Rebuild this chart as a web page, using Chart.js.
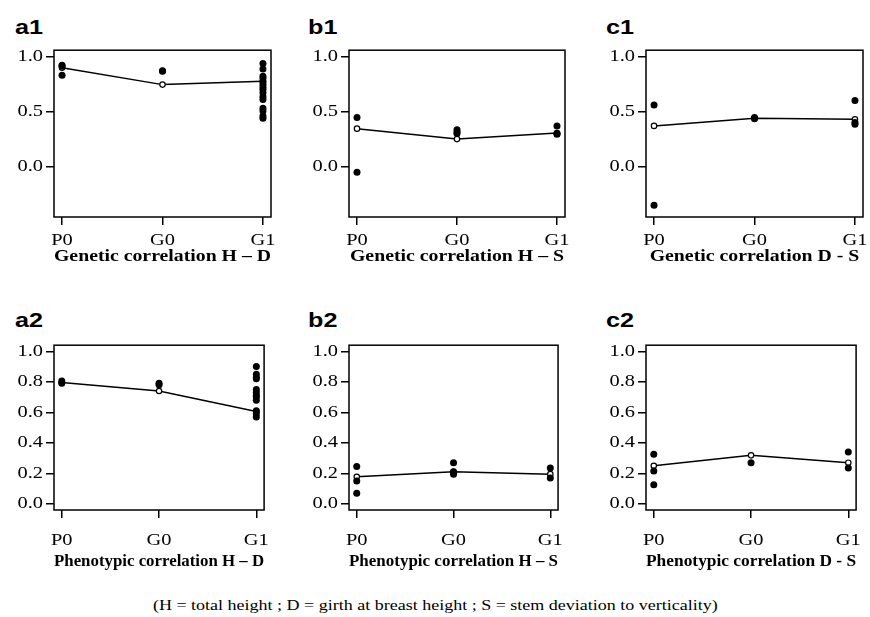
<!DOCTYPE html>
<html><head><meta charset="utf-8">
<script src="https://cdn.jsdelivr.net/npm/chart.js@4"></script>
<style>
body{margin:0;background:#fff;width:870px;height:617px;position:relative;overflow:hidden;}
canvas{position:absolute;}
.lab{position:absolute;font:bold 21px "Liberation Sans",Arial,sans-serif;line-height:21px;transform:scaleX(1.2);transform-origin:0 0;color:#000;}
#cap{position:absolute;left:0;top:598px;width:870px;text-align:center;font:15px "Liberation Serif","Times New Roman",serif;line-height:15px;color:#000;}
#cap span{display:inline-block;transform:scaleX(1.2);transform-origin:50% 0;}
</style></head>
<body>
<div id="cap"><span>(H = total height ; D = girth at breast height ; S = stem deviation to verticality)</span></div>
<script>
// ---- data ----
const xLabels = ['P0', 'G0', 'G1'];
const xPos = [1, 2, 3];
const topYTicks = [0.0, 0.5, 1.0];
const botYTicks = [0.0, 0.2, 0.4, 0.6, 0.8, 1.0];
const topYRange = [-0.456, 1.056];
const botYRange = [-0.04, 1.04];

const a1Mean = [0.897, 0.744, 0.775];
const a1P0 = [0.92, 0.91, 0.83];
const a1G0 = [0.87, 0.865];
const a1G1 = [0.935, 0.885, 0.82, 0.80, 0.77, 0.745, 0.72, 0.70, 0.67, 0.635, 0.61, 0.53, 0.505, 0.46, 0.44];

const b1Mean = [0.345, 0.25, 0.305];
const b1P0 = [0.445, -0.05];
const b1G0 = [0.335, 0.315, 0.30];
const b1G1 = [0.37, 0.30, 0.295];

const c1Mean = [0.37, 0.44, 0.43];
const c1P0 = [0.56, -0.35];
const c1G0 = [0.445, 0.435];
const c1G1 = [0.60, 0.40, 0.385];

const a2Mean = [0.795, 0.74, 0.605];
const a2P0 = [0.805, 0.79];
const a2G0 = [0.79, 0.78];
const a2G1 = [0.90, 0.85, 0.83, 0.82, 0.75, 0.73, 0.71, 0.70, 0.68, 0.61, 0.59, 0.57];

const b2Mean = [0.178, 0.21, 0.195];
const b2P0 = [0.245, 0.15, 0.07];
const b2G0 = [0.27, 0.21, 0.195];
const b2G1 = [0.235, 0.17];

const c2Mean = [0.25, 0.318, 0.27];
const c2P0 = [0.325, 0.215, 0.125];
const c2G0 = [0.27];
const c2G1 = [0.34, 0.235];

// ---- layout ----
const SX = 1.2;
const origFill = CanvasRenderingContext2D.prototype.fillText;
CanvasRenderingContext2D.prototype.fillText = function (t, x, y, mw) {
  this.save();
  this.translate(x, y);
  this.scale(SX, 1);
  if (mw === undefined) origFill.call(this, t, 0, 0);
  else origFill.call(this, t, 0, 0, mw / SX);
  this.restore();
};

const rows = [
  {boxTop: 47, boxBottom: 217, range: topYRange, ticks: topYTicks, labPad: 5, titleC: 257, labTop: 16},
  {boxTop: 342, boxBottom: 510, range: botYRange, ticks: botYTicks, labPad: 12, titleC: 562, labTop: 309}
];
const cols = [
  {left: 54, right: 271, labX: 15},
  {left: 349, right: 565, labX: 308},
  {left: 646, right: 863, labX: 606}
];

const panels = [
  {name: 'a1', r: 0, c: 0, title: 'Genetic correlation H \u2013 D', mean: a1Mean, pts: [a1P0, a1G0, a1G1]},
  {name: 'b1', r: 0, c: 1, title: 'Genetic correlation H \u2013 S', mean: b1Mean, pts: [b1P0, b1G0, b1G1]},
  {name: 'c1', r: 0, c: 2, title: 'Genetic correlation D - S', mean: c1Mean, pts: [c1P0, c1G0, c1G1]},
  {name: 'a2', r: 1, c: 0, title: 'Phenotypic correlation H \u2013 D', mean: a2Mean, pts: [a2P0, a2G0, a2G1]},
  {name: 'b2', r: 1, c: 1, title: 'Phenotypic correlation H \u2013 S', mean: b2Mean, pts: [b2P0, b2G0, b2G1]},
  {name: 'c2', r: 1, c: 2, title: 'Phenotypic correlation D - S', mean: c2Mean, pts: [c2P0, c2G0, c2G1]}
];

const boxPlugin = {
  id: 'box',
  afterDraw(chart) {
    const a = chart.chartArea, ctx = chart.ctx;
    ctx.save();
    ctx.strokeStyle = '#000';
    ctx.lineWidth = 1.5;
    ctx.strokeRect(a.left, a.top, a.right - a.left, a.bottom - a.top);
    ctx.restore();
  }
};

const tickFont = {family: '"Liberation Serif","Times New Roman",serif', size: 17};
const titleFont = {family: '"Liberation Serif","Times New Roman",serif', size: 16.5, weight: 'bold', lineHeight: 1.2};

panels.forEach(p => {
  const row = rows[p.r], col = cols[p.c];
  const cLeft = col.left - 54, cTop = row.boxTop - 10;
  const cW = (col.right - col.left) + 54 + 8;
  const cH = row.titleC + 14 - cTop;
  const xH = cH - (row.boxBottom - cTop);

  const lab = document.createElement('div');
  lab.className = 'lab';
  lab.textContent = p.name;
  lab.style.left = col.labX + 'px';
  lab.style.top = row.labTop + 'px';
  document.body.appendChild(lab);

  const cv = document.createElement('canvas');
  cv.width = cW; cv.height = cH;
  cv.style.left = cLeft + 'px'; cv.style.top = cTop + 'px';
  cv.style.width = cW + 'px'; cv.style.height = cH + 'px';
  document.body.appendChild(cv);

  const dots = [];
  p.pts.forEach((arr, i) => arr.forEach(v => dots.push({x: xPos[i], y: v})));
  const meanPts = p.mean.map((v, i) => ({x: xPos[i], y: v}));

  new Chart(cv, {
    type: 'scatter',
    data: {
      datasets: [
        {data: dots, order: 0, pointRadius: 3.5, pointBackgroundColor: '#000', pointBorderColor: '#000', pointBorderWidth: 0, showLine: false},
        {data: meanPts, order: 1, showLine: true, borderColor: '#000', borderWidth: 1.5, tension: 0,
         pointRadius: 2.7, pointBackgroundColor: '#fff', pointBorderColor: '#000', pointBorderWidth: 1.2}
      ]
    },
    options: {
      responsive: false, animation: false, devicePixelRatio: 1,
      layout: {padding: {top: 10, right: 8, left: 0, bottom: 0}},
      plugins: {legend: {display: false}, tooltip: {enabled: false}},
      scales: {
        x: {
          type: 'linear', min: 0.92, max: 3.08,
          afterBuildTicks: s => { s.ticks = xPos.map(v => ({value: v})); },
          afterFit: s => { s.height = xH; },
          ticks: {color: '#000', font: tickFont, padding: row.labPad, maxRotation: 0,
                  callback: v => xLabels[xPos.indexOf(v)]},
          grid: {drawOnChartArea: false, drawTicks: true, tickLength: 8, color: '#000', lineWidth: 1.5},
          border: {display: false},
          title: {display: true, text: p.title, color: '#000', font: titleFont, padding: {top: 0, bottom: 4}}
        },
        y: {
          type: 'linear', min: row.range[0], max: row.range[1],
          afterBuildTicks: s => { s.ticks = row.ticks.map(v => ({value: v})); },
          afterFit: s => { s.width = 54; },
          ticks: {color: '#000', font: tickFont, padding: 3, callback: v => Number(v).toFixed(1)},
          grid: {drawOnChartArea: false, drawTicks: true, tickLength: 8, color: '#000', lineWidth: 1.5},
          border: {display: false}
        }
      }
    },
    plugins: [boxPlugin]
  });
});
</script>
</body></html>
